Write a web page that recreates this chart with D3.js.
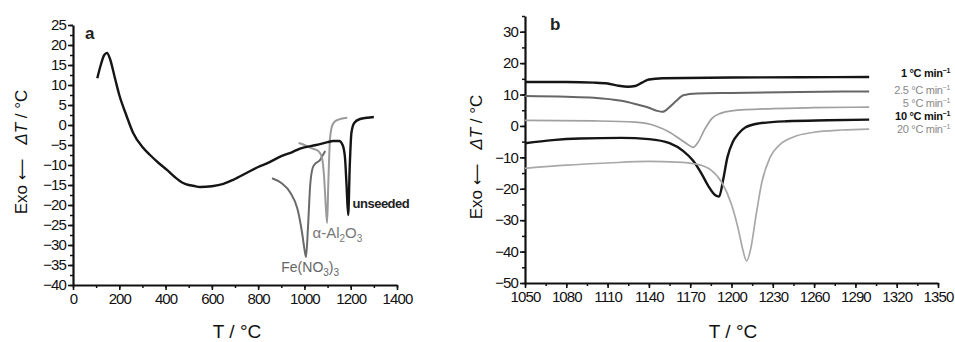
<!DOCTYPE html>
<html>
<head>
<meta charset="utf-8">
<script src="https://cdn.jsdelivr.net/npm/d3@7"></script>
<style>
  html, body { margin: 0; padding: 0; background: #fff; }
  svg { display: block; font-family: "Liberation Sans", Arial, sans-serif; }
  .tick text { font-size: 15px; fill: #111; letter-spacing: -0.9px; }
  .domain, .tick line { stroke: #111; }
</style>
</head>
<body>
<svg id="chart" width="955" height="342"></svg>
<script>
// ---- panel a: DTA, seeded vs unseeded ----
const aMainT  = [105, 120, 135, 147, 160, 180, 200, 230, 260, 300, 333, 370, 406, 440, 476, 500, 520, 549, 600, 650, 692, 750, 800, 838, 900, 950, 981, 1050, 1100, 1124, 1150, 1165, 1175, 1182, 1189, 1196, 1203, 1215, 1240, 1270, 1300];
const aMainDT = [11.7, 15, 17.5, 18, 16.5, 12, 7.5, 2.5, -2, -5.5, -7.5, -9.5, -11.2, -13, -14.5, -15, -15.2, -15.5, -15.3, -14.7, -13.7, -12, -10.5, -9.6, -7.8, -6.7, -5.9, -5, -4.3, -4, -4, -5, -8, -15, -22.5, -10, -2, 0.5, 1.5, 1.8, 2];
const aAlT    = [975, 1000, 1030, 1060, 1075, 1085, 1092, 1098, 1103, 1110, 1118, 1130, 1150, 1170, 1185];
const aAlDT   = [-4.5, -5, -5.8, -6.5, -8, -13, -20, -24.5, -15, -4, -0.5, 0.8, 1.4, 1.7, 1.8];
const aFeT    = [860, 900, 940, 970, 990, 1000, 1007, 1015, 1025, 1037, 1050, 1067, 1080, 1090];
const aFeDT   = [-13.3, -14.5, -17, -21, -27, -31, -33, -26, -15, -10.5, -9.5, -8.8, -7.5, -6.5];
const aXTicks = [0, 200, 400, 600, 800, 1000, 1200, 1400];
const aYTicks = [25, 20, 15, 10, 5, 0, -5, -10, -15, -20, -25, -30, -35, -40];

// ---- panel b: unseeded at different heating rates ----
const bRates = ["1", "2.5", "5", "10", "20"];
const b1T   = [1050, 1080, 1100, 1110, 1118, 1125, 1130, 1135, 1140, 1150, 1200, 1250, 1300];
const b1DT  = [14, 14, 13.8, 13.5, 12.8, 12.5, 12.7, 13.8, 14.8, 15.2, 15.4, 15.5, 15.6];
const b25T  = [1050, 1080, 1100, 1120, 1130, 1140, 1146, 1150, 1155, 1160, 1165, 1175, 1200, 1250, 1300];
const b25DT = [9.5, 9.3, 9, 8, 7, 5.8, 4.8, 4.5, 6, 8, 9.8, 10.3, 10.5, 10.8, 11];
const b5T   = [1050, 1100, 1130, 1145, 1155, 1162, 1168, 1172, 1176, 1180, 1186, 1192, 1200, 1230, 1260, 1300];
const b5DT  = [1.8, 1.6, 1.2, 0, -2, -4, -5.8, -6.8, -5, -1.5, 2.5, 4, 4.8, 5.5, 5.8, 6];
const b10T  = [1050, 1070, 1090, 1120, 1140, 1155, 1165, 1172, 1178, 1183, 1188, 1191, 1194, 1197, 1201, 1205, 1210, 1220, 1240, 1270, 1300];
const b10DT = [-5.5, -4.5, -4, -3.8, -4.2, -5.5, -8, -11, -15, -19, -22, -22.5, -17, -10, -5, -2.5, -0.5, 0.8, 1.5, 1.8, 2];
const b20T  = [1050, 1080, 1110, 1140, 1160, 1175, 1185, 1193, 1200, 1205, 1208, 1211, 1214, 1218, 1222, 1228, 1235, 1245, 1260, 1280, 1300];
const b20DT = [-13.5, -12.5, -11.8, -11.3, -11.5, -12.2, -14, -18, -25, -33, -39, -43, -39, -28, -18, -10, -6, -3.5, -2, -1.3, -1];
const bXTicks = [1050, 1080, 1110, 1140, 1170, 1200, 1230, 1260, 1290, 1320, 1350];
const bYTicks = [30, 20, 10, 0, -10, -20, -30, -40, -50];

const zip = (xs, ys) => xs.map((x, i) => ({ x, y: ys[i] }));
const svg = d3.select('#chart');

function drawPanel(opt) {
  const x = d3.scaleLinear().domain(opt.xDomain).range(opt.xRange);
  const y = d3.scaleLinear().domain(opt.yDomain).range(opt.yRange);
  const g = svg.append('g');

  // minor ticks first, then labelled major ticks on top
  g.append('g')
    .attr('transform', `translate(0,${opt.yRange[0]})`)
    .call(d3.axisBottom(x).tickValues(d3.range(opt.xDomain[0], opt.xDomain[1] + 1e-9, opt.xMinor)).tickSize(3).tickFormat(''))
    .call(s => s.select('.domain').remove())
    .selectAll('line').attr('stroke-width', 1.5);
  g.append('g')
    .attr('transform', `translate(${opt.xRange[0]},0)`)
    .call(d3.axisLeft(y).tickValues(d3.range(opt.yDomain[0], opt.yDomain[1] + 1e-9, opt.yMinor)).tickSize(3).tickFormat(''))
    .call(s => s.select('.domain').remove())
    .selectAll('line').attr('stroke-width', 1.5);

  const xa = g.append('g')
    .attr('transform', `translate(0,${opt.yRange[0]})`)
    .call(d3.axisBottom(x).tickValues(opt.xTicks).tickSize(5).tickSizeOuter(0).tickPadding(3)
      .tickFormat(d3.format('d')));
  xa.select('.domain').attr('stroke-width', 2.2);
  xa.selectAll('line').attr('stroke-width', 1.6);

  const ya = g.append('g')
    .attr('transform', `translate(${opt.xRange[0]},0)`)
    .call(d3.axisLeft(y).tickValues(opt.yTicks).tickSize(5).tickSizeOuter(0).tickPadding(2)
      .tickFormat(d => d < 0 ? '\u2212' + Math.abs(d) : d));
  ya.select('.domain').attr('stroke-width', 2.2);
  ya.selectAll('line').attr('stroke-width', 1.6);

  const line = d3.line().x(d => x(d.x)).y(d => y(d.y)).curve(d3.curveMonotoneX);
  opt.series.forEach(s => {
    g.append('path')
      .datum(zip(s.t, s.dt))
      .attr('fill', 'none')
      .attr('stroke', s.color)
      .attr('stroke-width', s.width)
      .attr('stroke-linejoin', 'round')
      .attr('d', line);
  });

  // panel letter
  g.append('text').attr('x', opt.letterX).attr('y', opt.yRange[1] + 14)
    .attr('font-size', 17).attr('font-weight', 'bold').attr('fill', '#222').text(opt.letter);

  // x title
  g.append('text').attr('x', opt.xTitleX).attr('y', 338)
    .attr('text-anchor', 'middle').attr('font-size', 19).attr('fill', '#111')
    .text('T / \u00B0C');

  // y title, rotated
  const yt = g.append('text')
    .attr('transform', `translate(${opt.yTitleX},${opt.yTitleY}) rotate(-90)`)
    .attr('text-anchor', 'middle').attr('font-size', 17).attr('fill', '#111');
  yt.append('tspan').text('Exo ');
  yt.append('tspan').attr('font-family', 'DejaVu Sans').attr('font-size', 15).text('\u27F5');
  yt.append('tspan').attr('dx', 14).attr('font-style', 'italic').text('\u0394T');
  yt.append('tspan').text(' / \u00B0C');

  return { x, y, g };
}

// panel a
const pa = drawPanel({
  xDomain: [0, 1400], xRange: [73, 397], xTicks: aXTicks, xMinor: 100,
  yDomain: [-40, 25], yRange: [285, 25], yTicks: aYTicks, yMinor: 2.5,
  letter: 'a', letterX: 85, xTitleX: 237, yTitleX: 27, yTitleY: 152,
  series: [
    { t: aFeT, dt: aFeDT, color: '#6a6a6a', width: 2 },
    { t: aAlT, dt: aAlDT, color: '#9a9a9a', width: 2 },
    { t: aMainT, dt: aMainDT, color: '#151515', width: 2.4 }
  ]
});

const ann = pa.g.append('g').attr('font-size', 13);
ann.append('text').attr('x', pa.x(1195) + 3).attr('y', pa.y(-19.5)).attr('dy', '0.35em')
  .attr('font-weight', 'bold').attr('fill', '#222').attr('letter-spacing', -0.5).text('unseeded');
const al = ann.append('text').attr('x', pa.x(1035)).attr('y', pa.y(-27)).attr('dy', '0.35em')
  .attr('fill', '#777').attr('font-size', 15);
al.append('tspan').text('\u03B1-Al');
al.append('tspan').attr('font-size', 10).attr('dy', 4).text('2');
al.append('tspan').attr('dy', -4).text('O');
al.append('tspan').attr('font-size', 10).attr('dy', 4).text('3');
const fe = ann.append('text').attr('x', pa.x(900)).attr('y', pa.y(-35.5)).attr('dy', '0.35em')
  .attr('fill', '#666').attr('font-size', 14);
fe.append('tspan').text('Fe(NO');
fe.append('tspan').attr('font-size', 10).attr('dy', 4).text('3');
fe.append('tspan').attr('dy', -4).text(')');
fe.append('tspan').attr('font-size', 10).attr('dy', 4).text('3');

// panel b
const bSeries = [
  { t: b1T, dt: b1DT, color: '#151515', width: 2.4 },
  { t: b25T, dt: b25DT, color: '#666', width: 2 },
  { t: b5T, dt: b5DT, color: '#a0a0a0', width: 1.7 },
  { t: b10T, dt: b10DT, color: '#151515', width: 2.4 },
  { t: b20T, dt: b20DT, color: '#a8a8a8', width: 1.7 }
];
const pb = drawPanel({
  xDomain: [1050, 1350], xRange: [525, 938], xTicks: bXTicks, xMinor: 15,
  yDomain: [-50, 35], yRange: [283, 16], yTicks: bYTicks, yMinor: 5,
  letter: 'b', letterX: 550, xTitleX: 733, yTitleX: 482, yTitleY: 157,
  series: bSeries
});

const legY = [73, 90, 103, 116, 129];
bRates.forEach((r, i) => {
  const s = bSeries[i];
  const t = pb.g.append('text').attr('x', 950).attr('y', legY[i]).attr('dy', '0.35em')
    .attr('text-anchor', 'end').attr('font-size', 11).attr('letter-spacing', -0.3)
    .attr('fill', s.color === '#151515' ? '#111' : '#888')
    .attr('font-weight', s.color === '#151515' ? 'bold' : 'normal');
  t.append('tspan').text(`${r} \u00B0C min`);
  t.append('tspan').attr('font-size', 7).attr('dy', -4).text('\u22121');
});
</script>
</body>
</html>
